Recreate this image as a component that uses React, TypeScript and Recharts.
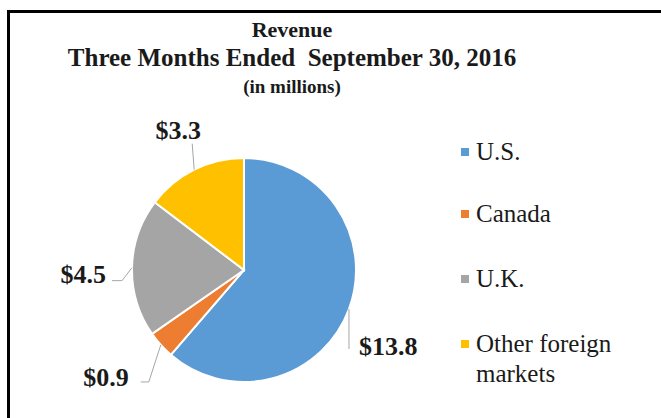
import React from 'react';
import { PieChart, Pie, Cell, Legend } from 'recharts';

const categories = ['U.S.', 'Canada', 'U.K.', 'Other foreign markets'];
const revenues = [13.8, 0.9, 4.5, 3.3];
const valueLabels = ['$13.8', '$0.9', '$4.5', '$3.3'];
const colors = ['#5B9BD5', '#ED7D31', '#A5A5A5', '#FFC000'];
const legendLines = [['U.S.'], ['Canada'], ['U.K.'], ['Other foreign', 'markets']];

const data = categories.map((name, i) => ({ name, value: revenues[i], label: valueLabels[i] }));

// leader line / label offsets relative to the slice's outer-edge midpoint
const labelLayout = [
  { elbow: [0, 40], end: [0, 40], text: [10, 37], anchor: 'start' },
  { elbow: [-12, 37], end: [-20, 37], text: [-32, 33], anchor: 'end' },
  { elbow: [-10, 13], end: [-20, 13], text: [-26, 7], anchor: 'end' },
  { elbow: [-2, -26], end: [-2, -26], text: [-16, -39], anchor: 'middle' },
];

const SERIF = '"Liberation Serif", "Times New Roman", serif';
const RADIAN = Math.PI / 180;

const renderLabel = (props: any) => {
  const { cx, cy, midAngle, outerRadius, index } = props;
  const px = cx + outerRadius * Math.cos(-midAngle * RADIAN);
  const py = cy + outerRadius * Math.sin(-midAngle * RADIAN);
  const l = labelLayout[index];
  const pts = `${px},${py} ${px + l.elbow[0]},${py + l.elbow[1]} ${px + l.end[0]},${py + l.end[1]}`;
  return (
    <g key={`lbl-${index}`}>
      <polyline points={pts} fill="none" stroke="#A6A6A6" strokeWidth={1} />
      <text
        x={px + l.text[0]}
        y={py + l.text[1]}
        textAnchor={l.anchor as any}
        dominantBaseline="central"
        fontFamily={SERIF}
        fontWeight="bold"
        fontSize={26}
        fill="#1a1a1a"
      >
        {data[index].label}
      </text>
    </g>
  );
};

const itemHeights = [62, 65, 65, 60];

const renderLegend = () => (
  <div style={{ fontFamily: SERIF, fontSize: 25, color: '#1a1a1a' }}>
    {legendLines.map((lines, i) => (
      <div key={i} style={{ position: 'relative', height: itemHeights[i], paddingLeft: 21 }}>
        <span
          style={{
            position: 'absolute',
            left: 6,
            top: 11,
            width: 8,
            height: 8,
            background: colors[i],
          }}
        />
        {lines.map((t, j) => (
          <div key={j} style={{ lineHeight: '30px', whiteSpace: 'nowrap' }}>{t}</div>
        ))}
      </div>
    ))}
  </div>
);

export default function App() {
  return (
    <div style={{ position: 'absolute', left: 0, top: 0, width: 661, height: 418, background: '#fff', overflow: 'hidden' }}>
      <div
        style={{
          position: 'absolute',
          left: 7,
          top: 10,
          width: 700,
          height: 500,
          borderTop: '3px solid #000',
          borderLeft: '3px solid #000',
        }}
      />
      <div
        style={{
          position: 'absolute',
          left: 0,
          top: 16,
          width: 584,
          textAlign: 'center',
          fontFamily: SERIF,
          fontWeight: 'bold',
          color: '#1a1a1a',
        }}
      >
        <div style={{ fontSize: 22, lineHeight: '27px' }}>Revenue</div>
        <div style={{ fontSize: 25, lineHeight: '30px', whiteSpace: 'pre' }}>Three Months Ended  September 30, 2016</div>
        <div style={{ fontSize: 19, lineHeight: '28px' }}>(in millions)</div>
      </div>
      <div style={{ position: 'absolute', left: 0, top: 0 }}>
        <PieChart width={661} height={418} margin={{ top: 0, right: 0, bottom: 0, left: 0 }}>
          <Pie
            data={data}
            dataKey="value"
            nameKey="name"
            cx={244}
            cy={270}
            outerRadius={112}
            startAngle={90}
            endAngle={-270}
            stroke="#fff"
            strokeWidth={2}
            label={renderLabel}
            labelLine={false}
            isAnimationActive={false}
          >
            {data.map((d, i) => (
              <Cell key={d.name} fill={colors[i]} />
            ))}
          </Pie>
          <Legend
            layout="vertical"
            verticalAlign="top"
            align="right"
            content={renderLegend}
            wrapperStyle={{ position: 'absolute', left: 455, top: 137, width: 200 }}
          />
        </PieChart>
      </div>
    </div>
  );
}
